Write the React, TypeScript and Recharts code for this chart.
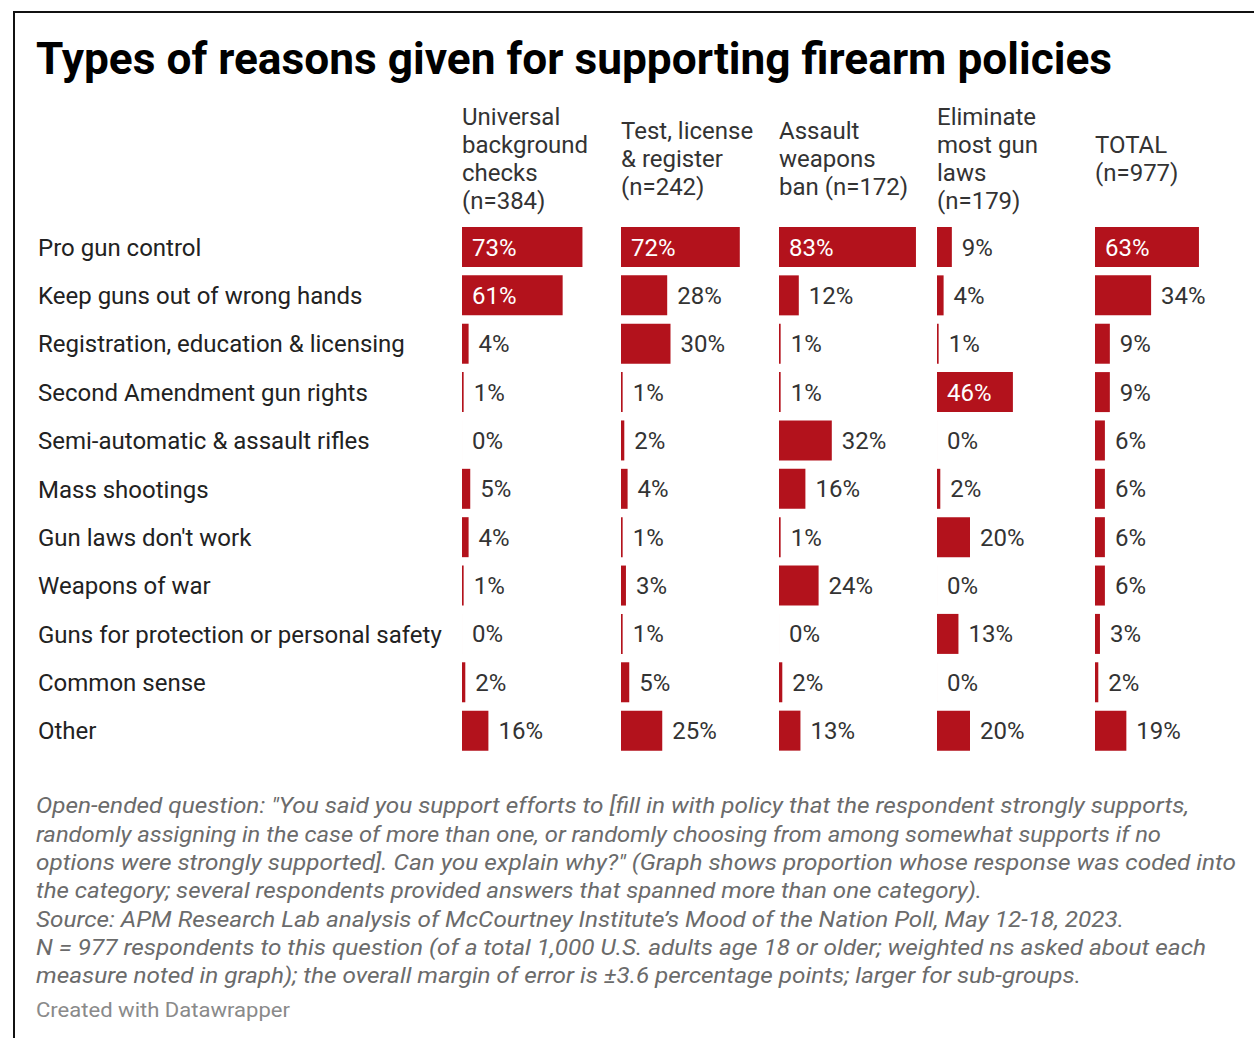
import { BarChart, Bar, XAxis, YAxis, LabelList } from 'recharts'

const reasons = [
  'Pro gun control',
  'Keep guns out of wrong hands',
  'Registration, education & licensing',
  'Second Amendment gun rights',
  'Semi-automatic & assault rifles',
  'Mass shootings',
  "Gun laws don't work",
  'Weapons of war',
  'Guns for protection or personal safety',
  'Common sense',
  'Other',
]

const backgroundChecks = [73, 61, 4, 1, 0, 5, 4, 1, 0, 2, 16]
const testLicenseRegister = [72, 28, 30, 1, 2, 4, 1, 3, 1, 5, 25]
const assaultWeaponsBan = [83, 12, 1, 1, 32, 16, 1, 24, 0, 2, 13]
const eliminateGunLaws = [9, 4, 1, 46, 0, 2, 20, 0, 13, 0, 20]
const totalAll = [63, 34, 9, 9, 6, 6, 6, 6, 3, 2, 19]

const columnHeads = [
  ['Universal', 'background', 'checks', '(n=384)'],
  ['Test, license', '& register', '(n=242)'],
  ['Assault', 'weapons', 'ban (n=172)'],
  ['Eliminate', 'most gun', 'laws', '(n=179)'],
  ['TOTAL', '(n=977)'],
]

const footnotes = [
  'Open-ended question: "You said you support efforts to [fill in with policy that the respondent strongly supports,',
  'randomly assigning in the case of more than one, or randomly choosing from among somewhat supports if no',
  'options were strongly supported]. Can you explain why?" (Graph shows proportion whose response was coded into',
  'the category; several respondents provided answers that spanned more than one category).',
  "Source: APM Research Lab analysis of McCourtney Institute\u2019s Mood of the Nation Poll, May 12-18, 2023.",
  'N = 977 respondents to this question (of a total 1,000 U.S. adults age 18 or older; weighted ns asked about each',
  'measure noted in graph); the overall margin of error is \u00b13.6 percentage points; larger for sub-groups.',
]

const seriesKeys = ['checks', 'license', 'assault', 'eliminate', 'total']
const seriesValues = [backgroundChecks, testLicenseRegister, assaultWeaponsBan, eliminateGunLaws, totalAll]

const rows = reasons.map((reason, i) => {
  const row: Record<string, string | number> = { reason }
  seriesKeys.forEach((k, j) => {
    row[k] = seriesValues[j][i]
  })
  return row
})

const RED = '#b3121c'
const FONT = 'Roboto, "Noto Sans", sans-serif'
const colX = [462, 621, 779, 937, 1095]
const footWidths = [1153, 1125, 1200, 946, 1088, 1170, 1045]
const plotTop = 222.7
const plotHeight = 532
const scaleWidth = 165

function ValueLabel(props: any) {
  const x = Number(props.x)
  const y = Number(props.y)
  const v = Number(props.value)
  // zero bars get a hairline width so the label still shows; treat it as 0
  const w = v === 0 ? 0 : Number(props.width) || 0
  const h = Number(props.height)
  const inside = v >= 40
  return (
    <text
      x={inside ? x + 10 : x + w + 10}
      y={y + h / 2}
      dy={8.5}
      fill={inside ? '#ffffff' : '#333333'}
      fontSize={24}
      fontFamily={FONT}
    >
      {v}%
    </text>
  )
}

function RowTick(props: any) {
  return (
    <text x={38} y={props.y} dy={8.5} fill="#222222" fontSize={24} fontFamily={FONT}>
      {props.payload.value}
    </text>
  )
}

function Column({ index }: { index: number }) {
  const first = index === 0
  const left = first ? 0 : colX[index]
  const axisW = first ? colX[0] : 0
  return (
    <div style={{ position: 'absolute', left, top: plotTop }}>
      <BarChart
        layout="vertical"
        width={axisW + scaleWidth}
        height={plotHeight}
        data={rows}
        margin={{ top: 0, right: 0, bottom: 0, left: 0 }}
        style={{ overflow: 'visible' }}
      >
        <XAxis type="number" domain={[0, 100]} hide />
        <YAxis
          type="category"
          dataKey="reason"
          hide={!first}
          width={axisW}
          axisLine={false}
          tickLine={false}
          tick={first ? <RowTick /> : false}
          interval={0}
        />
        <Bar
          dataKey={seriesKeys[index]}
          fill={RED}
          barSize={40}
          minPointSize={(v: number) => (v === 0 ? 0.01 : 0)}
          isAnimationActive={false}
        >
          <LabelList dataKey={seriesKeys[index]} content={<ValueLabel />} />
        </Bar>
      </BarChart>
    </div>
  )
}

export default function App() {
  return (
    <div
      style={{
        position: 'absolute',
        left: 0,
        top: 0,
        width: 1254,
        height: 1038,
        background: '#ffffff',
        overflow: 'hidden',
        fontFamily: FONT,
      }}
    >
      <div
        style={{
          position: 'absolute',
          left: 13,
          top: 11,
          width: 1260,
          height: 1040,
          borderTop: '2px solid #111',
          borderLeft: '2px solid #111',
        }}
      />
      <svg width={1254} height={1038} style={{ position: 'absolute', left: 0, top: 0 }}>
        <text
          x={36}
          y={73.5}
          fontSize={44}
          fontWeight={700}
          fill="#000000"
          fontFamily={FONT}
          textLength={1076}
          lengthAdjust="spacingAndGlyphs"
        >
          Types of reasons given for supporting firearm policies
        </text>
        {columnHeads.map((lines, i) => {
          const start = 166.5 - ((lines.length - 1) * 28) / 2
          return (
            <text key={i} fontSize={24} fill="#333333" fontFamily={FONT}>
              {lines.map((ln, j) => (
                <tspan key={j} x={colX[i]} y={start + j * 28}>
                  {ln}
                </tspan>
              ))}
            </text>
          )
        })}
        {footnotes.map((ln, i) => (
          <text
            key={i}
            x={36}
            y={813.3 + i * 28.3}
            fontSize={22}
            fontStyle="italic"
            fill="#6b6b6b"
            fontFamily={FONT}
            textLength={footWidths[i]}
            lengthAdjust="spacingAndGlyphs"
          >
            {ln}
          </text>
        ))}
        <text
          x={36}
          y={1017}
          fontSize={20}
          fill="#8a8a8a"
          fontFamily={FONT}
          textLength={254}
          lengthAdjust="spacingAndGlyphs"
        >
          Created with Datawrapper
        </text>
      </svg>
      {seriesKeys.map((k, i) => (
        <Column key={k} index={i} />
      ))}
    </div>
  )
}
